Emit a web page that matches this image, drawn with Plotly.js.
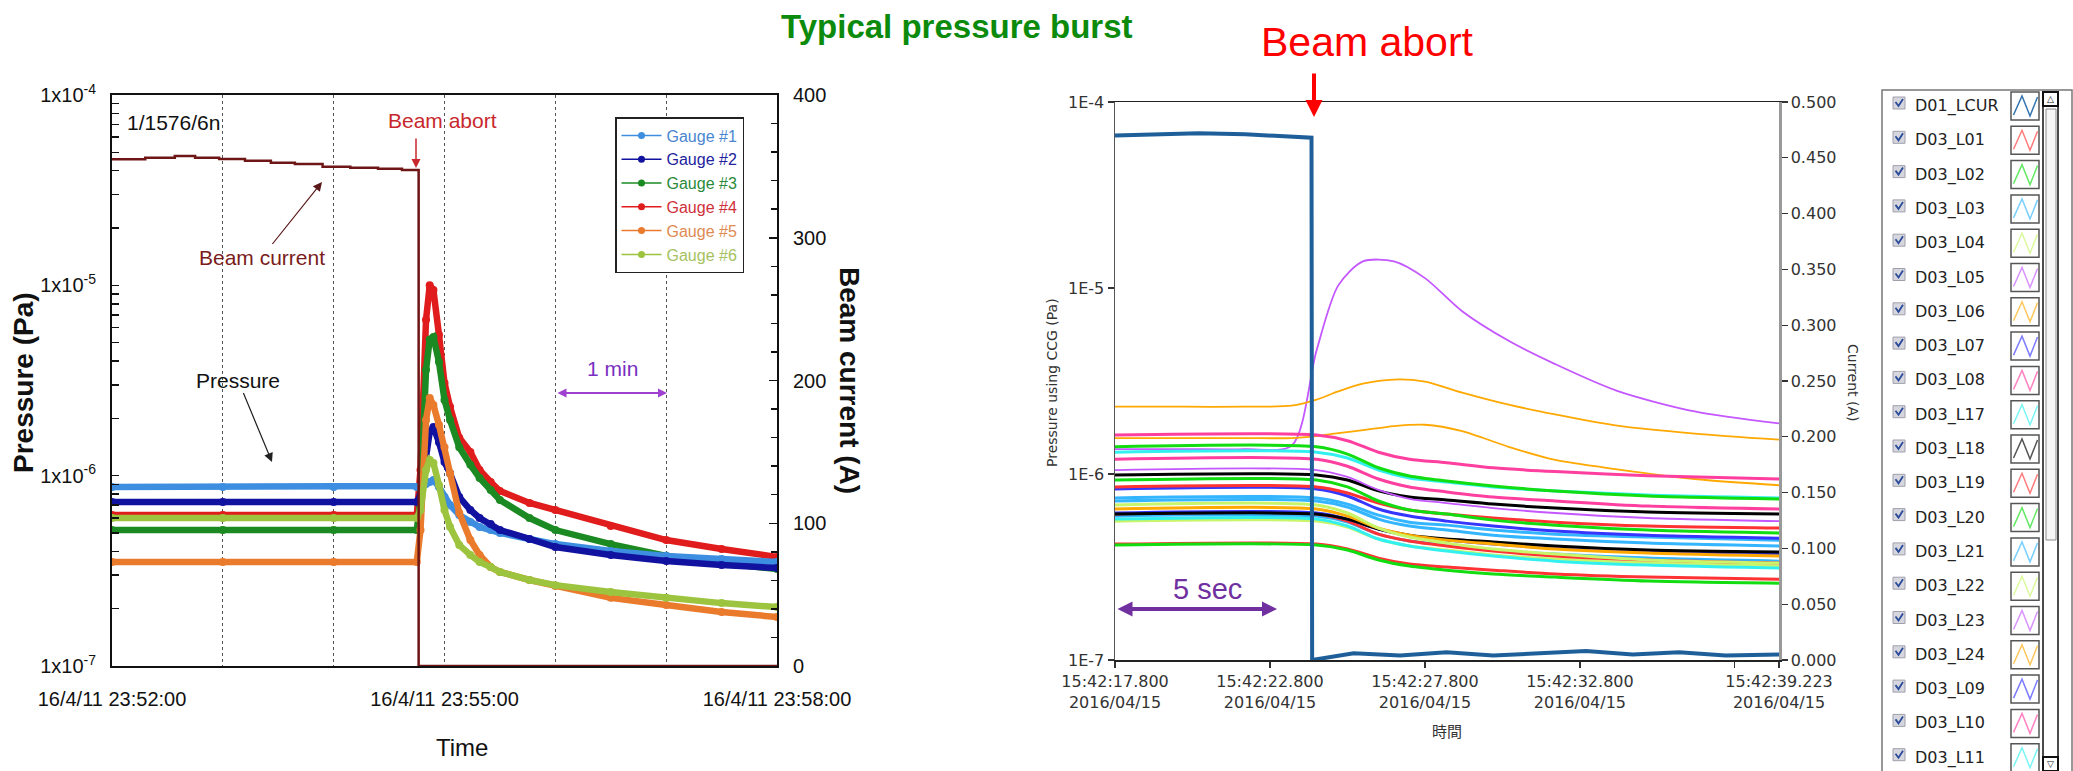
<!DOCTYPE html>
<html>
<head>
<meta charset="utf-8">
<script src="https://cdn.plot.ly/plotly-3.0.1.min.js"></script>
<style>
  html, body { margin: 0; padding: 0; background: #ffffff; }
  #chart { width: 2073px; height: 771px; }
</style>
</head>
<body>
<div id="chart"></div>
<script>
// ---------------- Left panel: gauges around the beam abort (16/4/11) ----------------
const gaugeNames = ['Gauge #1', 'Gauge #2', 'Gauge #3', 'Gauge #4', 'Gauge #5', 'Gauge #6'];

const gaugeTime = [
  '2016-04-11 23:52:00', '2016-04-11 23:53:00', '2016-04-11 23:54:00', '2016-04-11 23:54:45',
  '2016-04-11 23:54:47', '2016-04-11 23:54:50', '2016-04-11 23:54:52', '2016-04-11 23:54:54',
  '2016-04-11 23:54:57', '2016-04-11 23:55:00', '2016-04-11 23:55:03', '2016-04-11 23:55:08',
  '2016-04-11 23:55:14', '2016-04-11 23:55:19', '2016-04-11 23:55:25', '2016-04-11 23:55:30',
  '2016-04-11 23:55:46', '2016-04-11 23:56:00', '2016-04-11 23:56:30', '2016-04-11 23:57:00',
  '2016-04-11 23:57:30', '2016-04-11 23:58:00'
];

const gauge1 = [8.72e-7, 8.72e-7, 8.72e-7, 8.72e-7, 8.82e-7, 9.04e-7, 9.26e-7, 9.49e-7, 8.72e-7, 7.72e-7, 7.01e-7,
                6.21e-7, 5.71e-7, 5.37e-7, 5.18e-7, 5.0e-7, 4.65e-7, 4.37e-7, 4.02e-7, 3.79e-7, 3.65e-7, 3.52e-7];
const gauge2 = [7.27e-7, 7.27e-7, 7.27e-7, 7.27e-7, 7.91e-7, 1.36e-6, 1.7e-6, 1.8e-6, 1.5e-6, 1.18e-6, 1.03e-6,
                7.72e-7, 6.6e-7, 5.99e-7, 5.57e-7, 5.18e-7, 4.65e-7, 4.22e-7, 3.83e-7, 3.56e-7, 3.39e-7, 3.27e-7];
const gauge3 = [5.18e-7, 5.18e-7, 5.18e-7, 5.18e-7, 7.45e-7, 3.6e-6, 5.2e-6, 5.35e-6, 3.96e-6, 2.5e-6, 1.96e-6,
                1.41e-6, 1.14e-6, 9.72e-7, 8.41e-7, 7.45e-7, 5.99e-7, 5.18e-7, 4.37e-7, 3.79e-7, 3.48e-7, 3.23e-7];
const gauge4 = [6.21e-7, 6.21e-7, 6.21e-7, 6.21e-7, 1.07e-6, 6.6e-6, 1.0e-5, 9.45e-6, 5.5e-6, 3.07e-6, 2.3e-6,
                1.58e-6, 1.33e-6, 1.07e-6, 9.26e-7, 8.31e-7, 7.19e-7, 6.6e-7, 5.44e-7, 4.59e-7, 4.12e-7, 3.74e-7];
const gauge5 = [3.52e-7, 3.52e-7, 3.52e-7, 3.52e-7, 5.18e-7, 1.96e-6, 2.56e-6, 2.35e-6, 1.85e-6, 1.41e-6, 1.03e-6,
                6.36e-7, 4.59e-7, 3.83e-7, 3.31e-7, 3.12e-7, 2.83e-7, 2.63e-7, 2.28e-7, 2.09e-7, 1.92e-7, 1.81e-7];
const gauge6 = [5.99e-7, 5.99e-7, 5.99e-7, 5.99e-7, 6.6e-7, 1.07e-6, 1.21e-6, 1.165e-6, 8.93e-7, 6.6e-7, 5.37e-7,
                4.32e-7, 3.83e-7, 3.52e-7, 3.31e-7, 3.12e-7, 2.83e-7, 2.66e-7, 2.45e-7, 2.28e-7, 2.14e-7, 2.04e-7];

const beamTime = [
  '2016-04-11 23:52:00', '2016-04-11 23:52:18', '2016-04-11 23:52:34', '2016-04-11 23:52:45',
  '2016-04-11 23:52:58', '2016-04-11 23:53:12', '2016-04-11 23:53:26', '2016-04-11 23:53:39',
  '2016-04-11 23:53:54', '2016-04-11 23:54:09', '2016-04-11 23:54:24', '2016-04-11 23:54:37',
  '2016-04-11 23:54:46', '2016-04-11 23:58:00'
];
const beamCurrent = [355.0, 356.1, 357.3, 356.1, 355.2, 354.0, 352.6, 351.7, 349.8, 349.1, 348.4, 347.5, 0, 0];

const leftTimeTicks = [
  '2016-04-11 23:52:00', '2016-04-11 23:53:00', '2016-04-11 23:54:00', '2016-04-11 23:55:00',
  '2016-04-11 23:56:00', '2016-04-11 23:57:00', '2016-04-11 23:58:00'
];
const leftTimeLabels = ['16/4/11 23:52:00', '', '', '16/4/11 23:55:00', '', '', '16/4/11 23:58:00'];
const pressureDecades = [1e-7, 1e-6, 1e-5, 1e-4];
const pressureDecadeLabels = ['1x10<sup>-7</sup>', '1x10<sup>-6</sup>', '1x10<sup>-5</sup>', '1x10<sup>-4</sup>'];
const beamCurrentTicks = [0, 100, 200, 300, 400];

// ---------------- Right panel: CCG pressures, 2016/04/15 15:42 ----------------
const bandTime = [17.8, 24.3, 25.3, 26.3, 27.3, 28.5, 30.0, 32.0, 35.0, 39.223];
const peakTime = [17.8, 20.0, 22.0, 23.5, 24.3, 25.0, 25.8, 26.8, 27.8, 29.0, 30.5, 32.0, 34.0, 36.5, 39.223];

const D03_L01 = [8.52e-7, 8.52e-7, 7.91e-7, 6.98e-7, 6.40e-7, 6.09e-7, 5.80e-7, 5.51e-7, 5.25e-7, 5.12e-7];
const D03_L02 = [1.40e-6, 1.40e-6, 1.28e-6, 1.08e-6, 9.76e-7, 9.17e-7, 8.62e-7, 8.11e-7, 7.62e-7, 7.34e-7];
const D03_L03 = [7.43e-7, 7.43e-7, 6.89e-7, 6.01e-7, 5.51e-7, 5.31e-7, 5.00e-7, 4.75e-7, 4.58e-7, 4.41e-7];
const D03_L04 = [6.81e-7, 6.81e-7, 6.17e-7, 5.12e-7, 4.58e-7, 4.25e-7, 3.95e-7, 3.71e-7, 3.45e-7, 3.32e-7];
const D03_L05 = [1.36e-6, 1.36e-6, 1.36e-6, 1.42e-6, 4.6e-6, 1.03e-5, 1.39e-5, 1.39e-5, 1.13e-5, 7.5e-6, 5.2e-6,
                 3.9e-6, 2.8e-6, 2.17e-6, 1.87e-6];
const D03_L06 = [2.30e-6, 2.30e-6, 2.30e-6, 2.33e-6, 2.51e-6, 2.78e-6, 3.06e-6, 3.22e-6, 3.14e-6, 2.74e-6, 2.36e-6,
                 2.09e-6, 1.82e-6, 1.65e-6, 1.53e-6];
const D03_L07 = [8.31e-7, 8.31e-7, 7.62e-7, 6.48e-7, 5.94e-7, 5.58e-7, 5.25e-7, 4.94e-7, 4.69e-7, 4.52e-7];
const D03_L08 = [1.62e-6, 1.62e-6, 1.51e-6, 1.31e-6, 1.20e-6, 1.15e-6, 1.08e-6, 1.03e-6, 9.8e-7, 9.4e-7];
const D03_L09 = [6.17e-7, 6.17e-7, 5.72e-7, 5.06e-7, 4.64e-7, 4.41e-7, 4.20e-7, 4.00e-7, 3.81e-7, 3.71e-7];
const D03_L10 = [1.20e-6, 1.20e-6, 1.10e-6, 9.40e-7, 8.52e-7, 8.01e-7, 7.52e-7, 7.16e-7, 6.72e-7, 6.48e-7];
const D03_L11 = [5.72e-7, 5.72e-7, 5.25e-7, 4.47e-7, 4.10e-7, 3.85e-7, 3.62e-7, 3.40e-7, 3.24e-7, 3.12e-7];
const D03_L12 = [6.09e-7, 6.09e-7, 5.72e-7, 5.06e-7, 4.69e-7, 4.47e-7, 4.31e-7, 4.10e-7, 3.90e-7, 3.81e-7];
const D03_L13 = [4.20e-7, 4.20e-7, 3.95e-7, 3.53e-7, 3.28e-7, 3.16e-7, 3.04e-7, 2.90e-7, 2.79e-7, 2.72e-7];
const D03_L14 = [4.15e-7, 4.15e-7, 3.90e-7, 3.45e-7, 3.20e-7, 3.04e-7, 2.90e-7, 2.79e-7, 2.66e-7, 2.59e-7];
const D03_L15 = [7.16e-7, 7.16e-7, 6.64e-7, 5.72e-7, 5.25e-7, 5.00e-7, 4.69e-7, 4.47e-7, 4.25e-7, 4.10e-7];
const D03_L16 = [6.48e-7, 6.48e-7, 5.94e-7, 5.12e-7, 4.69e-7, 4.41e-7, 4.20e-7, 3.95e-7, 3.76e-7, 3.62e-7];
const D03_L17 = [1.31e-6, 1.31e-6, 1.22e-6, 1.05e-6, 9.52e-7, 9.06e-7, 8.52e-7, 8.11e-7, 7.71e-7, 7.43e-7];
const D03_L18 = [9.88e-7, 9.88e-7, 9.28e-7, 8.11e-7, 7.52e-7, 7.25e-7, 6.89e-7, 6.56e-7, 6.24e-7, 6.09e-7];
const D03_L19 = [6.09e-7, 6.09e-7, 5.58e-7, 4.75e-7, 4.36e-7, 4.10e-7, 3.85e-7, 3.62e-7, 3.45e-7, 3.32e-7];
const D03_L20 = [9.28e-7, 9.28e-7, 8.52e-7, 7.16e-7, 6.40e-7, 6.09e-7, 5.65e-7, 5.31e-7, 5.00e-7, 4.82e-7];
const D03_L21 = [5.94e-7, 5.94e-7, 5.51e-7, 4.75e-7, 4.36e-7, 4.15e-7, 3.90e-7, 3.71e-7, 3.53e-7, 3.40e-7];
const D03_L22 = [5.58e-7, 5.58e-7, 5.18e-7, 4.47e-7, 4.10e-7, 3.90e-7, 3.67e-7, 3.49e-7, 3.32e-7, 3.20e-7];
const D03_L23 = [1.05e-6, 1.05e-6, 9.64e-7, 8.21e-7, 7.34e-7, 6.98e-7, 6.56e-7, 6.17e-7, 5.80e-7, 5.58e-7];
const D03_L24 = [1.56e-6, 1.56e-6, 1.56e-6, 1.56e-6, 1.60e-6, 1.66e-6, 1.72e-6, 1.81e-6, 1.84e-6, 1.70e-6, 1.40e-6,
                 1.19e-6, 1.06e-6, 9.4e-7, 8.7e-7];

const currentTime = [17.8, 19.0, 20.5, 22.0, 23.5, 24.14, 24.16, 25.5, 27.0, 28.5, 30.0, 31.5, 33.0, 34.5, 36.0, 37.5, 39.223];
const D01_LCUR = [0.470, 0.471, 0.472, 0.471, 0.469, 0.468, 0.0, 0.006, 0.004, 0.007, 0.004, 0.006, 0.008, 0.005, 0.007, 0.004, 0.005];

const rightTimeTicks = [17.8, 22.8, 27.8, 32.8, 37.8, 39.223];
const rightTimeLabels = ['15:42:17.800<br>2016/04/15', '15:42:22.800<br>2016/04/15', '15:42:27.800<br>2016/04/15',
                         '15:42:32.800<br>2016/04/15', '', '15:42:39.223<br>2016/04/15'];
const rightPressureLabels = ['1E-7', '1E-6', '1E-5', '1E-4'];

const panelNames = ['D01_LCUR', 'D03_L01', 'D03_L02', 'D03_L03', 'D03_L04', 'D03_L05', 'D03_L06', 'D03_L07',
                    'D03_L08', 'D03_L17', 'D03_L18', 'D03_L19', 'D03_L20', 'D03_L21', 'D03_L22', 'D03_L23',
                    'D03_L24', 'D03_L09', 'D03_L10', 'D03_L11'];

// ---------------- drawing ----------------
const W = 2073, H = 771;
const px = x => x / W;
const py = y => 1 - y / H;
const SANS = 'Liberation Sans, Arial, sans-serif';
const VERD = 'DejaVu Sans, Verdana, sans-serif';

function mixWhite(hex, t) {
  const n = parseInt(hex.slice(1), 16);
  const r = (n >> 16) & 255, g = (n >> 8) & 255, b = n & 255;
  const m = c => Math.round(c + (255 - c) * t);
  return `rgb(${m(r)},${m(g)},${m(b)})`;
}

const gaugeValues = [gauge1, gauge2, gauge3, gauge4, gauge5, gauge6];
const gaugeColors = ['#3d8ee0', '#1212a0', '#1c8a22', '#e01c1c', '#ea7a2c', '#9cc43e'];
const gaugeTextColors = ['#4a86d0', '#22229e', '#2a8a3a', '#d0303a', '#e08a52', '#a6c25e'];

const traces = [];
traces.push({
  x: beamTime, y: beamCurrent, xaxis: 'x', yaxis: 'y3', type: 'scatter', mode: 'lines',
  name: 'Beam current', showlegend: false, line: { color: '#6e1616', width: 2.5, shape: 'hv' }
});
[3, 2, 0, 1, 4, 5].forEach(i => {
  traces.push({
    x: gaugeTime, y: gaugeValues[i], xaxis: 'x', yaxis: 'y', type: 'scatter', mode: 'lines+markers',
    name: gaugeNames[i], showlegend: false,
    line: { color: gaugeColors[i], width: 6.5 }, marker: { color: gaugeColors[i], size: 8 }
  });
});
// legend entries (thin line + dot)
gaugeNames.forEach((nm, i) => {
  traces.push({
    x: [null], y: [null], xaxis: 'x', yaxis: 'y', type: 'scatter', mode: 'lines+markers',
    name: `<span style="color:${gaugeTextColors[i]}">${nm}</span>`, showlegend: true,
    line: { color: gaugeColors[i], width: 1.5 }, marker: { color: gaugeColors[i], size: 7 }
  });
});

const PAL = {
  red: '#ff3333', green: '#11dd11', lightblue: '#33b5ff', yellowgreen: '#c9f56a', purple: '#c457ff',
  orange: '#ffa800', blue: '#3535ff', pink: '#ff3fa0', cyan: '#33f0f0', black: '#000000'
};
const rightSeries = [
  { name: 'D03_L05', t: peakTime, v: D03_L05, c: PAL.purple },
  { name: 'D03_L06', t: peakTime, v: D03_L06, c: PAL.orange },
  { name: 'D03_L13', t: bandTime, v: D03_L13, c: PAL.red },
  { name: 'D03_L14', t: bandTime, v: D03_L14, c: PAL.green },
  { name: 'D03_L22', t: bandTime, v: D03_L22, c: PAL.yellowgreen },
  { name: 'D03_L11', t: bandTime, v: D03_L11, c: PAL.cyan },
  { name: 'D03_L21', t: bandTime, v: D03_L21, c: PAL.lightblue },
  { name: 'D03_L19', t: bandTime, v: D03_L19, c: PAL.red },
  { name: 'D03_L09', t: bandTime, v: D03_L09, c: PAL.blue },
  { name: 'D03_L12', t: bandTime, v: D03_L12, c: PAL.black },
  { name: 'D03_L16', t: bandTime, v: D03_L16, c: PAL.orange },
  { name: 'D03_L04', t: bandTime, v: D03_L04, c: PAL.yellowgreen },
  { name: 'D03_L15', t: bandTime, v: D03_L15, c: PAL.lightblue },
  { name: 'D03_L03', t: bandTime, v: D03_L03, c: PAL.lightblue },
  { name: 'D03_L07', t: bandTime, v: D03_L07, c: PAL.blue },
  { name: 'D03_L01', t: bandTime, v: D03_L01, c: PAL.red },
  { name: 'D03_L20', t: bandTime, v: D03_L20, c: PAL.green },
  { name: 'D03_L18', t: bandTime, v: D03_L18, c: PAL.black },
  { name: 'D03_L23', t: bandTime, v: D03_L23, c: PAL.purple },
  { name: 'D03_L10', t: bandTime, v: D03_L10, c: PAL.pink },
  { name: 'D03_L17', t: bandTime, v: D03_L17, c: PAL.cyan },
  { name: 'D03_L02', t: bandTime, v: D03_L02, c: PAL.green },
  { name: 'D03_L24', t: peakTime, v: D03_L24, c: PAL.orange },
  { name: 'D03_L08', t: bandTime, v: D03_L08, c: PAL.pink }
];
rightSeries.forEach(s => {
  const thin = s.t === peakTime || s.c === PAL.purple;
  traces.push({
    x: s.t, y: s.v, xaxis: 'x2', yaxis: 'y2', type: 'scatter', mode: 'lines', name: s.name,
    showlegend: false, line: { color: s.c, width: thin ? 1.8 : 3, shape: 'spline', smoothing: 0.8 }
  });
});
const LCUR_COLOR = '#1f5f99';
traces.push({
  x: currentTime, y: D01_LCUR, xaxis: 'x2', yaxis: 'y4', type: 'scatter', mode: 'lines', name: 'D01_LCUR',
  showlegend: false, line: { color: LCUR_COLOR, width: 4 }
});

// left log-axis ticks: decades labelled, 2..9 unlabelled
const ltv = [], ltt = [];
pressureDecades.forEach((d, i) => {
  for (let m = 1; m <= 9; m++) {
    if (i === pressureDecades.length - 1 && m > 1) break;
    ltv.push(m * d);
    ltt.push(m === 1 ? pressureDecadeLabels[i] : '');
  }
});

const annotations = [];
const shapes = [];
function note(o) {
  annotations.push(Object.assign({ xref: 'paper', yref: 'paper', showarrow: false, xanchor: 'center', yanchor: 'middle' }, o));
}

// headline
note({ text: '<b>Typical pressure burst</b>', x: px(957), y: py(27), font: { family: SANS, size: 33, color: '#0b8a0b' } });

// left chart labels
note({ text: '<b>Pressure (Pa)</b>', x: px(23), y: py(383), textangle: -90, font: { family: SANS, size: 28, color: '#111' } });
note({ text: '<b>Beam current (A)</b>', x: px(850), y: py(380), textangle: 90, font: { family: SANS, size: 28, color: '#111' } });
note({ text: 'Time', x: px(462), y: py(747), font: { family: SANS, size: 24, color: '#111' } });
note({ text: '1/1576/6n', x: px(125), y: py(123), xanchor: 'left', font: { family: SANS, size: 21, color: '#111' } });
note({ text: 'Beam current', x: px(322), y: py(182), showarrow: true, axref: 'pixel', ayref: 'pixel', ax: -60, ay: 75,
       arrowhead: 2, arrowsize: 1.5, arrowwidth: 1.2, arrowcolor: '#5a1818', font: { family: SANS, size: 21, color: '#7a1c1c' } });
note({ text: 'Pressure', x: px(272), y: py(462), showarrow: true, axref: 'pixel', ayref: 'pixel', ax: -34, ay: -82,
       arrowhead: 2, arrowsize: 1.5, arrowwidth: 1.2, arrowcolor: '#222', font: { family: SANS, size: 21, color: '#111' } });
note({ text: 'Beam abort', x: px(442), y: py(120), font: { family: SANS, size: 21, color: '#c8282d' } });
note({ text: '', x: px(416), y: py(168), showarrow: true, axref: 'pixel', ayref: 'pixel', ax: 0, ay: -31,
       arrowhead: 2, arrowsize: 1.2, arrowwidth: 1.5, arrowcolor: '#c8282d' });
note({ text: '1 min', x: px(612), y: py(368), font: { family: SANS, size: 21, color: '#7a30c0' } });
note({ text: '', x: px(667), y: py(393), showarrow: true, axref: 'pixel', ayref: 'pixel', ax: -111, ay: 0,
       arrowside: 'end+start', arrowhead: 2, arrowsize: 0.9, arrowwidth: 2, arrowcolor: '#a040d0' });

// right chart labels
note({ text: 'Beam abort', x: px(1367), y: py(42), font: { family: SANS, size: 41, color: '#ff0000' } });
note({ text: '', x: px(1314), y: py(117), showarrow: true, axref: 'pixel', ayref: 'pixel', ax: 0, ay: -45,
       arrowhead: 2, arrowsize: 0.85, arrowwidth: 4, arrowcolor: '#ff0000' });
note({ text: '5 sec', x: px(1207), y: py(589), font: { family: SANS, size: 29, color: '#7030a0' } });
note({ text: '', x: px(1277), y: py(609), showarrow: true, axref: 'pixel', ayref: 'pixel', ax: -161, ay: 0,
       arrowside: 'end+start', arrowhead: 2, arrowsize: 0.75, arrowwidth: 4, arrowcolor: '#7030a0' });
note({ text: 'Pressure using CCG (Pa)', x: px(1052), y: py(383), textangle: -90, font: { family: VERD, size: 14, color: '#333' } });
note({ text: 'Current (A)', x: px(1853), y: py(383), textangle: 90, font: { family: VERD, size: 14, color: '#333' } });
note({ text: '時間', x: px(1447), y: py(730), font: { family: 'Noto Sans CJK JP, sans-serif', size: 15, color: '#333' } });

// series list panel at the far right
function rect(x0, y0, x1, y1, line, fill, w) {
  shapes.push({ type: 'rect', xref: 'paper', yref: 'paper', x0: px(x0), x1: px(x1), y0: py(y1), y1: py(y0),
                line: { color: line, width: w }, fillcolor: fill, layer: 'above' });
}
function poly(pts, color, w) {
  const d = pts.map((p, k) => (k ? 'L' : 'M') + px(p[0]).toFixed(5) + ',' + py(p[1]).toFixed(5)).join(' ');
  shapes.push({ type: 'path', xref: 'paper', yref: 'paper', path: d, line: { color: color, width: w }, layer: 'above' });
}
rect(1882, 90, 2072, 800, '#777', '#ffffff', 1.5);
rect(2043, 92, 2058, 800, '#111', '#ffffff', 1.5);
rect(2043, 92, 2058, 106, '#111', '#ffffff', 2);
rect(2046, 109, 2056, 540, '#8a8a8a', '#f6f6f6', 1);
rect(2043, 757, 2058, 771, '#111', '#ffffff', 2);
note({ text: '△', x: px(2050.5), y: py(99), font: { family: VERD, size: 9, color: '#111' } });
note({ text: '▽', x: px(2050.5), y: py(764), font: { family: VERD, size: 9, color: '#111' } });

const colorByName = { D01_LCUR: LCUR_COLOR };
rightSeries.forEach(s => { colorByName[s.name] = s.c; });
panelNames.forEach((nm, i) => {
  const c = 105 + i * 34.3;
  rect(1893, c - 8, 1905, c + 4, '#a0a0ac', '#d6d6de', 1);
  poly([[1895.5, c - 3], [1898.5, c + 1], [1903, c - 6]], '#2a4a9a', 1.8);
  note({ text: nm, x: px(1913), y: py(c + 1), xanchor: 'left', font: { family: VERD, size: 16, color: '#222' } });
  rect(2011, c - 13, 2039, c + 15, '#555', '#ffffff', 1.5);
  const col = colorByName[nm];
  const iconCol = col === '#000000' ? '#555555' : (nm === 'D01_LCUR' ? '#3575b0' : mixWhite(col, 0.35));
  poly([[2013.5, c + 10], [2022, c - 9], [2030, c + 11], [2037.5, c - 8]], iconCol, 1.5);
});

const layout = {
  width: W, height: H,
  margin: { l: 0, r: 0, t: 0, b: 0, pad: 0 },
  paper_bgcolor: '#ffffff', plot_bgcolor: '#ffffff',
  hovermode: false,
  showlegend: true,
  legend: {
    x: px(615), y: py(117), xanchor: 'left', yanchor: 'top',
    bgcolor: '#ffffff', bordercolor: '#222', borderwidth: 1.5,
    font: { family: SANS, size: 16, color: '#222' }, itemwidth: 40, tracegroupgap: 0
  },
  xaxis: {
    domain: [px(112), px(777)], anchor: 'y', type: 'date',
    range: ['2016-04-11 23:52:00', '2016-04-11 23:58:00'],
    tickmode: 'array', tickvals: leftTimeTicks, ticktext: leftTimeLabels,
    showgrid: true, gridcolor: '#555', griddash: 'dot', gridwidth: 1,
    showline: true, linecolor: '#111', linewidth: 2, mirror: true, ticks: '',
    tickfont: { family: SANS, size: 20, color: '#111' }, ticklabelstandoff: 14, zeroline: false
  },
  yaxis: {
    domain: [py(666), py(95)], anchor: 'x', type: 'log', range: [-7, -4],
    tickmode: 'array', tickvals: ltv, ticktext: ltt,
    ticks: 'inside', ticklen: 7, tickwidth: 1.5, tickcolor: '#111',
    showline: true, linecolor: '#111', linewidth: 2, showgrid: false, zeroline: false,
    tickfont: { family: SANS, size: 20, color: '#111' }, ticklabelstandoff: 10
  },
  yaxis3: {
    overlaying: 'y', side: 'right', anchor: 'x', range: [0, 400],
    tickmode: 'array', tickvals: beamCurrentTicks,
    ticks: 'inside', ticklen: 8, tickwidth: 1.5, tickcolor: '#111',
    minor: { dtick: 20, tick0: 0, ticks: 'inside', ticklen: 6, tickwidth: 1.5, tickcolor: '#111', showgrid: false },
    showline: true, linecolor: '#111', linewidth: 2, showgrid: false, zeroline: false,
    tickfont: { family: SANS, size: 20, color: '#111' }, ticklabelstandoff: 10
  },
  xaxis2: {
    domain: [px(1115), px(1779)], anchor: 'y2', range: [17.8, 39.223],
    tickmode: 'array', tickvals: rightTimeTicks, ticktext: rightTimeLabels,
    ticks: 'outside', ticklen: 6, tickcolor: '#333', tickwidth: 1.2,
    showline: true, linecolor: '#222', linewidth: 1.5, mirror: true, showgrid: false, zeroline: false,
    tickfont: { family: VERD, size: 16, color: '#333' }
  },
  yaxis2: {
    domain: [py(660), py(102)], anchor: 'x2', type: 'log', range: [-7, -4],
    tickmode: 'array', tickvals: pressureDecades, ticktext: rightPressureLabels,
    ticks: 'outside', ticklen: 6, tickcolor: '#333', tickwidth: 1.2,
    showline: true, linecolor: '#555', linewidth: 1.5, showgrid: false, zeroline: false,
    tickfont: { family: VERD, size: 16, color: '#333' }
  },
  yaxis4: {
    overlaying: 'y2', side: 'right', anchor: 'x2', range: [0, 0.5],
    tick0: 0, dtick: 0.05, tickformat: '.3f',
    ticks: 'outside', ticklen: 6, tickcolor: '#333', tickwidth: 1.2,
    showline: true, linecolor: '#999', linewidth: 2.5, showgrid: false, zeroline: false,
    tickfont: { family: VERD, size: 16, color: '#333' }
  },
  annotations: annotations,
  shapes: shapes
};

Plotly.newPlot('chart', traces, layout, { staticPlot: true, displayModeBar: false });
</script>
</body>
</html>
